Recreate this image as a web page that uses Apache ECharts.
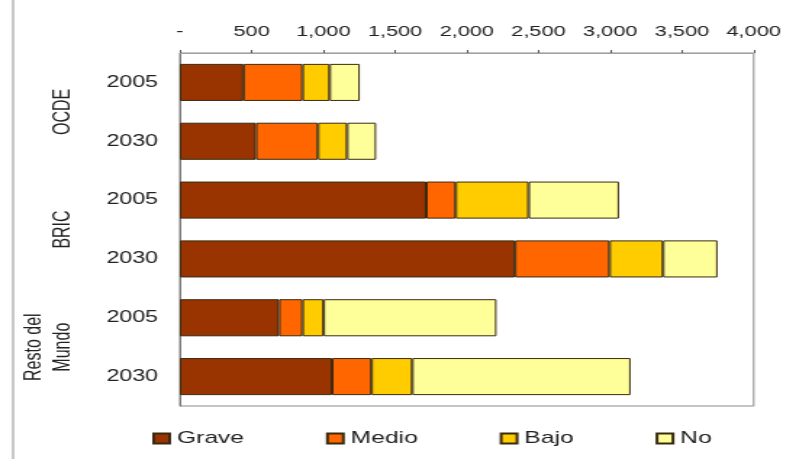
<!DOCTYPE html>
<html>
<head>
<meta charset="utf-8">
<script src="https://cdn.jsdelivr.net/npm/echarts@6/dist/echarts.min.js"></script>
<style>
  html, body { margin: 0; padding: 0; background: #fff; overflow: hidden; }
  /* the chart is laid out narrow and widened horizontally to fill the page */
  #chart { width: 545.5px; height: 459px; transform: scaleX(1.45); transform-origin: 0 0; }
</style>
</head>
<body>
<div id="chart"></div>
<script>
// Regions and years on the category axis
var groups = ['OCDE', 'BRIC', 'Resto del\nMundo'];
var years = ['2005', '2030', '2005', '2030', '2005', '2030'];
var groupOfRow = [0, 0, 1, 1, 2, 2];

// Stacked values per severity level
var grave = [443, 531, 1718, 2336, 692, 1061];
var medio = [412, 432, 205, 659, 163, 275];
var bajo  = [189, 203, 508, 373, 147, 284];
var no    = [210, 202, 630, 380, 1205, 1522];

var seriesNames = ['Grave', 'Medio', 'Bajo', 'No'];
var seriesColors = ['#993300', '#FF6600', '#FFCC00', '#FFFF99'];
var seriesValues = [grave, medio, bajo, no];

// Value axis ticks
var axisMin = 0, axisMax = 4000, axisStep = 500;

var rowKeys = years.map(function (y, i) { return groups[groupOfRow[i]] + '|' + y; });

var font = '"Liberation Sans", Arial, sans-serif';
var chart = echarts.init(document.getElementById('chart'));

chart.setOption({
  animation: false,
  backgroundColor: '#fff',
  textStyle: { fontFamily: font },
  grid: {
    left: 124, right: 26.2, top: 53, bottom: 53,
    show: true, borderColor: '#8a8a8a', borderWidth: 1, backgroundColor: 'transparent'
  },
  xAxis: {
    type: 'value', position: 'top',
    min: axisMin, max: axisMax, interval: axisStep,
    splitLine: { show: false },
    axisLine: { show: true, lineStyle: { color: '#a0a0a0', width: 1 } },
    axisTick: { show: true, length: 3, lineStyle: { color: '#555' } },
    axisLabel: {
      fontSize: 15, color: '#222', margin: 14, fontFamily: font,
      formatter: function (v) { return v === 0 ? '-' : v.toLocaleString('en-US'); }
    }
  },
  yAxis: [
    {
      type: 'category', data: rowKeys, inverse: true,
      axisLine: { show: true, lineStyle: { color: '#777', width: 1 } },
      axisTick: { show: false },
      axisLabel: {
        fontSize: 16, color: '#222', margin: 15, fontFamily: font,
        formatter: function (v) { return v.split('|')[1]; }
      }
    },
    {
      type: 'category', data: groups, inverse: true, position: 'left', offset: 70,
      axisLine: { show: false }, axisTick: { show: false },
      axisLabel: { rotate: 90, fontSize: 16, lineHeight: 20, margin: 0, color: '#222', fontFamily: font }
    }
  ],
  legend: {
    left: 100, top: 425,
    icon: 'rect', itemWidth: 11, itemHeight: 10, itemGap: 56.5,
    textStyle: { fontSize: 17, color: '#222', fontFamily: font },
    data: seriesNames
  },
  graphic: [
    { type: 'line', shape: { x1: 9, y1: 0, x2: 9, y2: 459 }, style: { stroke: '#c8c8c8', lineWidth: 2 } }
  ],
  series: seriesNames.map(function (name, i) {
    return {
      name: name, type: 'bar', stack: 'total',
      xAxisIndex: 0, yAxisIndex: 0,
      barWidth: '63%',
      itemStyle: { color: seriesColors[i], borderColor: '#3a2a10', borderWidth: 1 },
      data: seriesValues[i]
    };
  })
});
</script>
</body>
</html>
